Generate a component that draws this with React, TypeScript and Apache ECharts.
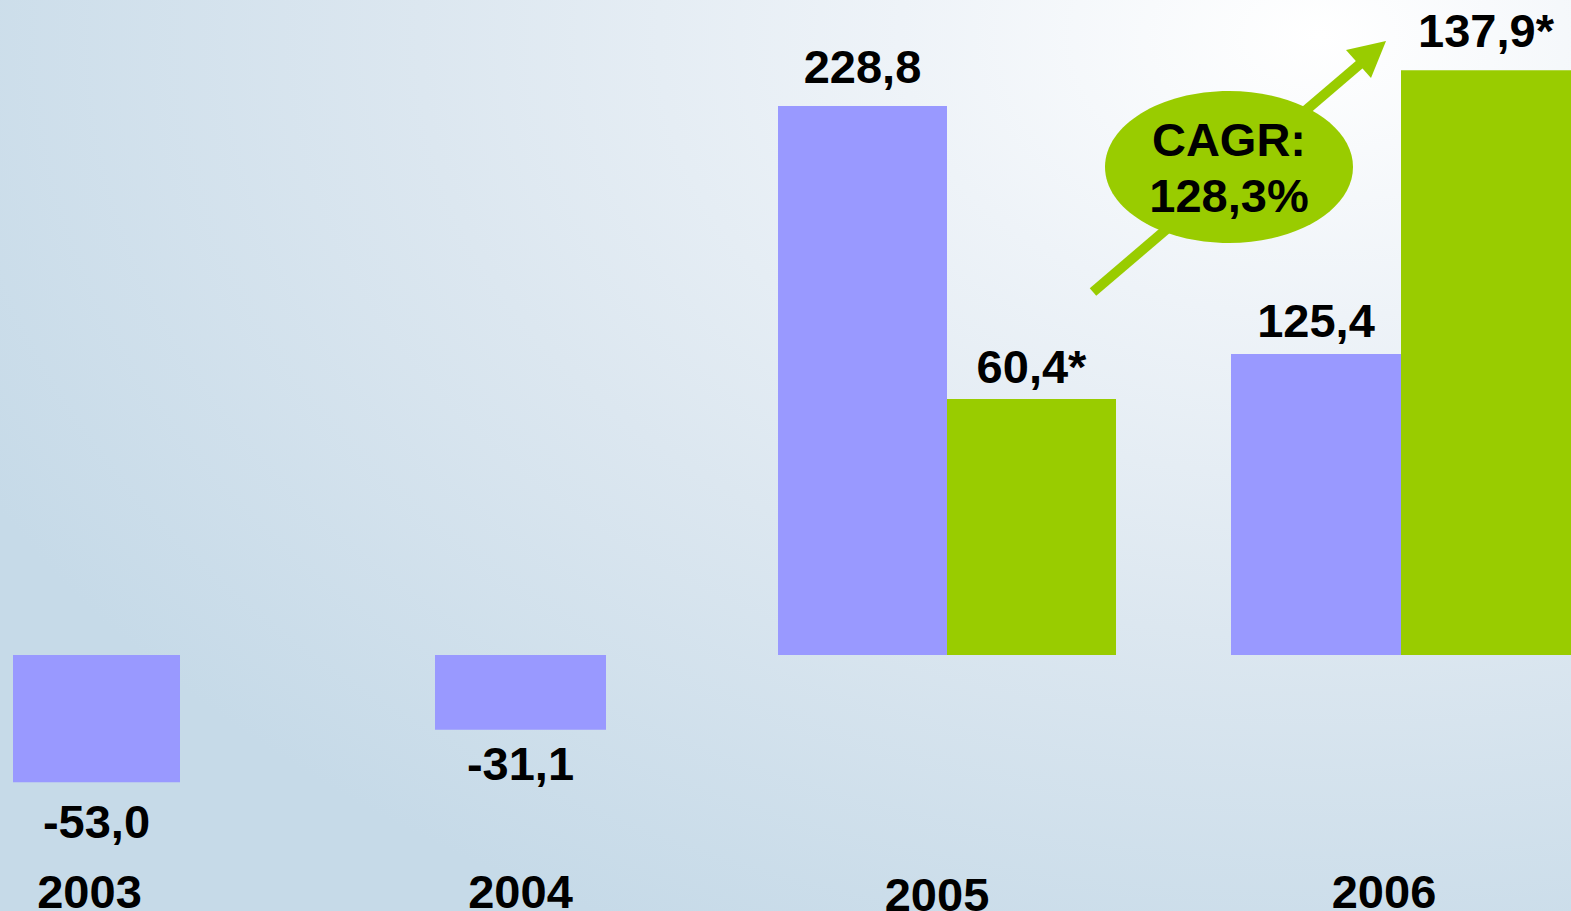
import React, { useEffect, useRef } from "react";
import * as echarts from "echarts";

// ---- data ----
const years = ["2003", "2004", "2005", "2006"];
const netProfit = [-53.0, -31.1, 228.8, 125.4];
const adjustedProfit: (number | null)[] = [null, null, 60.4, 137.9];
const cagrLines = ["CAGR:", "128,3%"];

// ---- layout / style ----
const W = 1571;
const H = 911;
const PURPLE = "#9999FF";
const GREEN = "#99CC00";
const FONT = "'Liberation Sans', Arial, sans-serif";
const gridLayout = [
  { left: 13, width: 167, shift: 7, drop: 0, pDist: 16, gDist: 10 },
  { left: 435, width: 171, shift: 0, drop: 0, pDist: 10, gDist: 10 },
  { left: 778, width: 338, shift: 10, drop: 3, pDist: 16, gDist: 9 },
  { left: 1231, width: 340, shift: 17, drop: 0, pDist: 10, gDist: 16 },
];
const GRID_BOTTOM_Y = 860;
const ZERO_Y = 655;
const PURPLE_PX = 2.4;
const GREEN_PX = 4.24;

const fmt = (v: number) => v.toFixed(1).replace(".", ",");

export default function App() {
  const ref = useRef<HTMLDivElement>(null);
  useEffect(() => {
    if (!ref.current) return;
    const chart = echarts.init(ref.current, undefined, { renderer: "svg" });

    const grids: any[] = [];
    const xAxes: any[] = [];
    const yAxes: any[] = [];
    const series: any[] = [];

    const labelStyle = {
      show: true,
      fontSize: 47,
      fontWeight: "bold",
      fontFamily: FONT,
      color: "#000",
    };

    years.forEach((yr, i) => {
      const g = gridLayout[i];
      grids.push({
        left: g.left,
        width: g.width,
        top: 0,
        bottom: H - GRID_BOTTOM_Y,
        containLabel: false,
        outerBoundsMode: "none",
      });
      xAxes.push({
        type: "category",
        gridIndex: i,
        data: [yr],
        offset: g.drop,
        axisLine: { show: false },
        axisTick: { show: false },
        splitLine: { show: false },
        axisLabel: {
          fontSize: 47,
          fontWeight: "bold",
          fontFamily: FONT,
          color: "#000",
          margin: 8,
          padding: [0, g.shift * 2, 0, 0],
        },
      });
      const pIdx = yAxes.length;
      yAxes.push({
        type: "value",
        gridIndex: i,
        min: -(GRID_BOTTOM_Y - ZERO_Y) / PURPLE_PX,
        max: ZERO_Y / PURPLE_PX,
        show: false,
        splitLine: { show: false },
      });
      const v = netProfit[i];
      series.push({
        type: "bar",
        xAxisIndex: i,
        yAxisIndex: pIdx,
        barGap: "0%",
        barCategoryGap: "0%",
        itemStyle: { color: PURPLE },
        data: [
          {
            value: v,
            label: {
              ...labelStyle,
              distance: g.pDist,
              position: v < 0 ? "bottom" : "top",
              formatter: () => fmt(v),
            },
          },
        ],
      });
      const a = adjustedProfit[i];
      if (a !== null) {
        const gIdx = yAxes.length;
        yAxes.push({
          type: "value",
          gridIndex: i,
          min: -(GRID_BOTTOM_Y - ZERO_Y) / GREEN_PX,
          max: ZERO_Y / GREEN_PX,
          show: false,
          splitLine: { show: false },
        });
        series.push({
          type: "bar",
          xAxisIndex: i,
          yAxisIndex: gIdx,
          barGap: "0%",
          barCategoryGap: "0%",
          itemStyle: { color: GREEN },
          data: [
            {
              value: a,
              label: {
                ...labelStyle,
                distance: g.gDist,
                position: "top",
                formatter: () => fmt(a) + "*",
              },
            },
          ],
        });
      }
    });

    chart.setOption({
      animation: false,
      backgroundColor: "transparent",
      grid: grids,
      xAxis: xAxes,
      yAxis: yAxes,
      series,
      graphic: [
        {
          type: "line",
          shape: { x1: 1093, y1: 292, x2: 1360, y2: 64 },
          style: { stroke: GREEN, lineWidth: 10 },
          z: 10,
        },
        {
          type: "polygon",
          shape: { points: [[1386, 41], [1346, 50], [1371, 78]] },
          style: { fill: GREEN },
          z: 10,
        },
        {
          type: "ellipse",
          shape: { cx: 1229, cy: 167, rx: 124, ry: 76 },
          style: { fill: GREEN },
          z: 11,
        },
        {
          type: "text",
          x: 1229,
          y: 167,
          z: 12,
          style: {
            text: cagrLines.join("\n"),
            fontSize: 47,
            fontWeight: "bold",
            fontFamily: FONT,
            fill: "#000",
            lineHeight: 56,
            align: "center",
            verticalAlign: "middle",
            textAlign: "center",
            textVerticalAlign: "middle",
          },
        },
      ],
    });
    return () => chart.dispose();
  }, []);

  return (
    <div
      style={{
        position: "absolute",
        left: 0,
        top: 0,
        width: W,
        height: H,
        overflow: "hidden",
        background:
          "radial-gradient(ellipse 1500px 1000px at 84% 4%, #ffffff 0%, #eef3f8 28%, #dce7f0 60%, #c6dae8 100%)",
      }}
    >
      <div ref={ref} style={{ width: W, height: H }} />
    </div>
  );
}
